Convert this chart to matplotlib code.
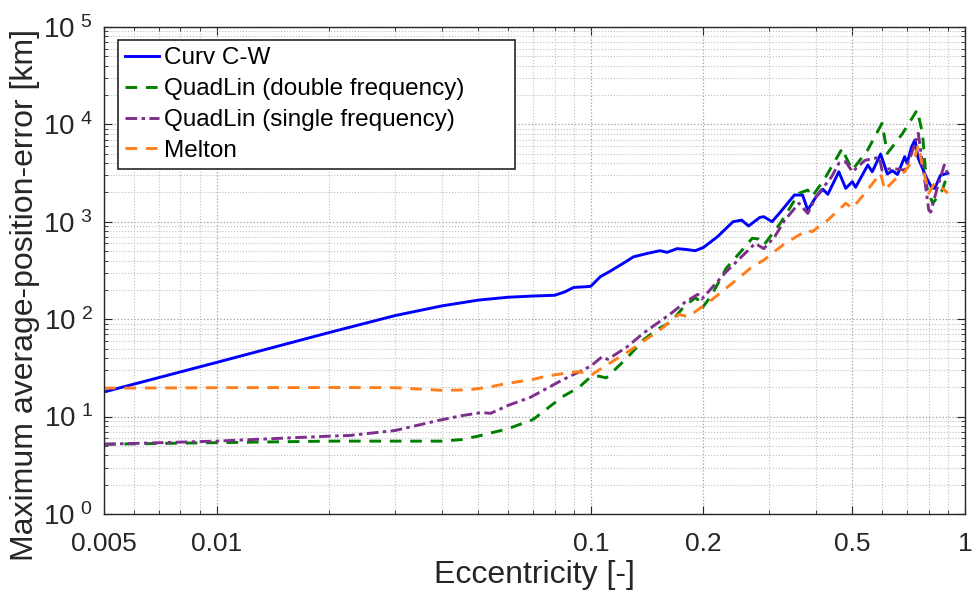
import matplotlib
matplotlib.use('Agg')
import matplotlib.pyplot as plt
from matplotlib.ticker import FixedLocator, FixedFormatter, LogLocator, NullFormatter

plt.rcParams['font.family'] = ['Liberation Sans', 'DejaVu Sans']
plt.rcParams['mathtext.default'] = 'regular'

# Curv C-W
x_cw = [0.005, 0.01, 0.02, 0.03, 0.04, 0.05, 0.06, 0.07, 0.08, 0.085, 0.09, 0.098,
        0.1, 0.106, 0.112, 0.124, 0.13, 0.142, 0.153, 0.16, 0.17, 0.18, 0.19, 0.2,
        0.218, 0.24, 0.253, 0.264, 0.283, 0.29, 0.305, 0.32, 0.35, 0.368, 0.38, 0.4,
        0.417, 0.43, 0.46, 0.48, 0.5, 0.51, 0.55, 0.565, 0.595, 0.62, 0.64, 0.66,
        0.69, 0.70, 0.72, 0.735, 0.75, 0.79, 0.815, 0.83, 0.86, 0.9]
y_cw = [17.9, 36, 73, 109, 137, 157, 168, 173, 176, 190, 212, 216,
        218, 273, 307, 389, 437, 475, 505, 486, 530, 520, 505, 545,
        703, 1003, 1040, 906, 1110, 1128, 1003, 1240, 1884, 1884, 1320, 1810,
        2158, 1916, 3265, 2208, 2583, 2262, 3830, 3265, 4970, 3097, 3347, 3060,
        4660, 3990, 5900, 6920, 4490, 2800, 2250, 2200, 3000, 3160]

# QuadLin (double frequency)
x_qd = [0.005, 0.01, 0.02, 0.03, 0.04, 0.045, 0.05, 0.06, 0.07, 0.084, 0.093, 0.1,
        0.105, 0.11, 0.125, 0.138, 0.15, 0.164, 0.178, 0.19, 0.193, 0.198, 0.21,
        0.23, 0.25, 0.27, 0.28, 0.29, 0.32, 0.36, 0.38, 0.39, 0.42, 0.47, 0.48, 0.5,
        0.55, 0.6, 0.62, 0.68, 0.745, 0.77, 0.79, 0.82, 0.87, 0.9]
y_qd = [5.2, 5.4, 5.6, 5.6, 5.6, 5.8, 6.3, 7.5, 9.3, 16, 20, 25.7,
        26, 25, 40, 61, 78, 94, 137, 165, 160, 129, 175,
        333, 480, 677, 667, 578, 950, 1963, 2120, 1810, 2700, 5690, 4660, 3400,
        5500, 10260, 5050, 8000, 14060, 8100, 2300, 1540, 2120, 3160]

# QuadLin (single frequency)
x_qs = [0.005, 0.01, 0.02, 0.0227, 0.03, 0.039, 0.045, 0.051, 0.054, 0.06, 0.069,
        0.084, 0.1, 0.107, 0.111, 0.125, 0.138, 0.164, 0.178, 0.193, 0.198, 0.23,
        0.25, 0.275, 0.29, 0.31, 0.33, 0.36, 0.38, 0.4, 0.44, 0.46, 0.48, 0.5,
        0.54, 0.59, 0.6, 0.64, 0.69, 0.72, 0.75, 0.77, 0.8, 0.81, 0.84, 0.88, 0.9]
y_qs = [5.2, 5.6, 6.3, 6.4, 7.2, 9.1, 10.2, 11.0, 10.8, 13, 15.8,
        23.8, 33, 41, 38.7, 52, 71.6, 115, 148, 180, 161, 307,
        420, 600, 530, 703, 1043, 1550, 1220, 1810, 2900, 3990, 4140, 3265,
        4270, 4600, 3400, 3530, 3400, 5000, 8110, 3990, 1320, 1260, 2120, 3830, 3060]

# Melton
x_me = [0.005, 0.01, 0.02, 0.03, 0.04, 0.047, 0.053, 0.06, 0.069, 0.076, 0.085,
        0.093, 0.1, 0.109, 0.124, 0.153, 0.172, 0.182, 0.21, 0.25, 0.27, 0.29,
        0.33, 0.38, 0.39, 0.43, 0.48, 0.5, 0.54, 0.595, 0.61, 0.67, 0.69, 0.735,
        0.75, 0.77, 0.8, 0.83, 0.86, 0.9]
y_me = [19.6, 19.8, 19.9, 19.8, 18.6, 18.8, 20, 22, 23.8, 26, 27.8,
        29, 26.5, 33, 44.7, 77.5, 112, 106, 157, 270, 346, 405,
        600, 824, 790, 1043, 1550, 1380, 1963, 3160, 2120, 3060, 3265, 4660,
        6140, 3700, 1963, 2500, 2300, 1963]

labels = ['Curv C-W', 'QuadLin (double frequency)', 'QuadLin (single frequency)', 'Melton']
xticks = [0.005, 0.01, 0.1, 0.2, 0.5, 1]
xticklabels = ['0.005', '0.01', '0.1', '0.2', '0.5', '1']
yticks = [1, 10, 100, 1000, 10000, 100000]
yticklabels = ['$10^{\\ 0}$', '$10^{\\ 1}$', '$10^{\\ 2}$', '$10^{\\ 3}$', '$10^{\\ 4}$', '$10^{\\ 5}$']

fig = plt.figure(figsize=(9.72, 5.94), dpi=100)
ax = fig.add_axes([0.107, 0.1347, 0.8858, 0.8198])

lw = 2.1
ax.plot(x_cw, y_cw, '-', color='#0000ff', lw=lw, label=labels[0])
ax.plot(x_qd, y_qd, '--', color='#008000', lw=lw, label=labels[1], dashes=(4, 3))
ax.plot(x_qs, y_qs, '-.', color='#7e2f8e', lw=lw, label=labels[2], dashes=(4, 1.5, 1.2, 1.5))
ax.plot(x_me, y_me, '--', color='#ff7f1e', lw=lw, label=labels[3], dashes=(4, 3))

ax.set_xscale('log')
ax.set_yscale('log')
ax.set_xlim(0.005, 1)
ax.set_ylim(1, 1e5)

ax.xaxis.set_major_locator(FixedLocator(xticks))
ax.xaxis.set_major_formatter(FixedFormatter(xticklabels))
ax.xaxis.set_minor_locator(LogLocator(base=10, subs=range(2, 10), numticks=20))
ax.xaxis.set_minor_formatter(NullFormatter())
ax.yaxis.set_major_locator(FixedLocator(yticks))
ax.yaxis.set_major_formatter(FixedFormatter(yticklabels))
ax.yaxis.set_minor_locator(LogLocator(base=10, subs=range(2, 10), numticks=20))
ax.yaxis.set_minor_formatter(NullFormatter())

ax.tick_params(which='both', direction='in', top=True, right=True, colors='#262626')
ax.tick_params(which='major', length=6, width=0.8, labelcolor='#262626')
ax.tick_params(axis='x', which='major', labelsize=19, pad=13)
ax.tick_params(axis='y', which='major', labelsize=20, pad=8)
ax.tick_params(which='minor', length=3, width=0.6)
for sp in ax.spines.values():
    sp.set_color('#262626')
    sp.set_linewidth(1.0)

ax.grid(True, which='major', ls=':', color='#a0a0a0', lw=0.9)
ax.grid(True, which='minor', ls=':', color='#c0c0c0', lw=0.8)

ax.set_xlabel('Eccentricity [-]', fontsize=23, color='#262626', labelpad=3)
ax.set_ylabel('Maximum average-position-error [km]', fontsize=23, color='#262626')
ax.yaxis.set_label_coords(-0.074, 0.45)

leg = ax.legend(loc='upper left', fontsize=17.5, handlelength=1.4, handletextpad=0.2,
                borderpad=0.3, labelspacing=0.36, fancybox=False, mode='expand',
                bbox_to_anchor=(0.0163, 0.0, 0.461, 0.973), borderaxespad=0)
leg.get_frame().set_edgecolor('#262626')
leg.get_frame().set_linewidth(1.2)
leg.get_frame().set_alpha(1)

fig.savefig('out.png', dpi=100)
